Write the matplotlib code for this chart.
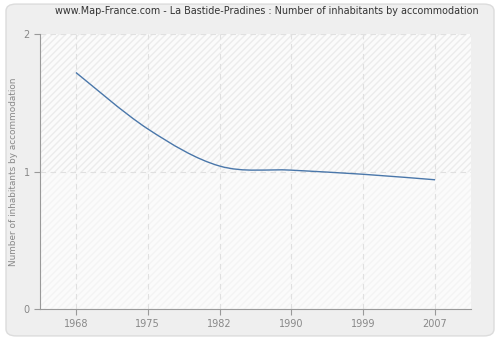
import numpy as np
import matplotlib
matplotlib.use("Agg")
import matplotlib.pyplot as plt
from matplotlib.path import Path
from matplotlib.patches import PathPatch, FancyBboxPatch, Rectangle

# data
years = [1968, 1975, 1982, 1990, 1999, 2007]
values = [1.72, 1.31, 1.04, 1.01, 0.98, 0.94]
y_ticks = [0, 1, 2]
title = "www.Map-France.com - La Bastide-Pradines : Number of inhabitants by accommodation"
y_label = "Number of inhabitants by accommodation"

fig = plt.figure(figsize=(5, 3.4), dpi=100)
fig.patch.set_facecolor("white")

# rounded grey panel behind everything
panel = FancyBboxPatch((0.012, 0.012), 0.976, 0.976, boxstyle="round,pad=0,rounding_size=0.02",
                       transform=fig.transFigure, facecolor="#efefef", edgecolor="#dcdcdc",
                       linewidth=1.0, zorder=-10)
fig.patches.append(panel)

ax = fig.add_axes([0.08, 0.091, 0.862, 0.809])
ax.set_facecolor("#fbfbfb")
ax.set_xlim(-0.5, len(years) - 0.5)
ax.set_ylim(0, 2)

# hatched background, a bit stronger above 1
ax.add_patch(Rectangle((-0.5, 1), len(years), 1, facecolor="none", edgecolor="#ececec",
                       hatch="/////", linewidth=0, zorder=0))
ax.add_patch(Rectangle((-0.5, 0), len(years), 1, facecolor="none", edgecolor="#f4f4f4",
                       hatch="/////", linewidth=0, zorder=0))

# years are spaced evenly on the axis; smooth line as cubic Bezier segments
x = np.arange(len(years), dtype=float)
y = np.array(values, dtype=float)
n = len(x)
verts = [(x[0], y[0])]
codes = [Path.MOVETO]
for i in range(n - 1):
    x0, y0 = (x[i - 1], y[i - 1]) if i > 0 else (x[i], y[i])
    x3, y3 = (x[i + 2], y[i + 2]) if i + 2 < n else (x[i + 1], y[i + 1])
    t = 1 / 6
    c1 = (x[i] + (x[i + 1] - x0) * t, y[i] + (y[i + 1] - y0) * t)
    c2 = (x[i + 1] - (x3 - x[i]) * t, y[i + 1] - (y3 - y[i]) * t)
    verts += [c1, c2, (x[i + 1], y[i + 1])]
    codes += [Path.CURVE4] * 3
ax.add_patch(PathPatch(Path(verts, codes), facecolor="none", edgecolor="#4a77aa",
                       linewidth=1.0, zorder=3))

ax.set_xticks(x)
ax.set_xticklabels([str(v) for v in years])
ax.set_yticks(y_ticks)
ax.grid(True, linestyle=(0, (5, 4)), color="#e0e0e0", linewidth=0.8)
ax.set_axisbelow(True)

for s in ["top", "right"]:
    ax.spines[s].set_visible(False)
for s in ["left", "bottom"]:
    ax.spines[s].set_color("#999999")
ax.tick_params(colors="#999999", labelcolor="#888888", labelsize=7, length=4, width=0.8)
ax.tick_params(axis="x", pad=3)

ax.set_ylabel(y_label, fontsize=6.4, color="#888888", labelpad=4)
fig.text(0.534, 0.967, title, ha="center", va="center", fontsize=6.9, color="#333333")

plt.savefig("out.png", dpi=100)
